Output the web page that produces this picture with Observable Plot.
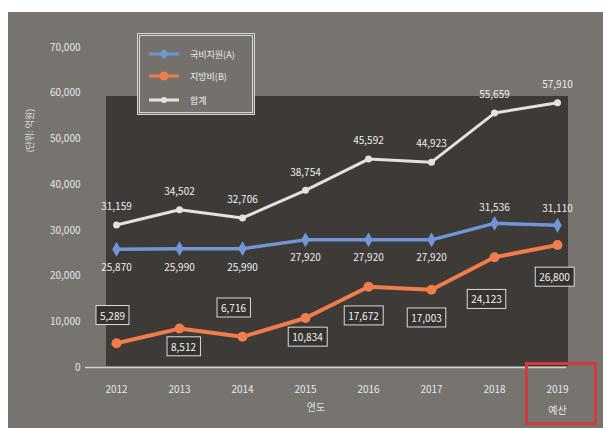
<!DOCTYPE html>
<html><head><meta charset="utf-8">
<script src="https://cdn.jsdelivr.net/npm/d3@7"></script>
<script src="https://cdn.jsdelivr.net/npm/@observablehq/plot@0.6"></script>
<style>
body{margin:0;background:#fff;}
#wrap{position:relative;width:603px;height:428px;overflow:hidden;font-family:"Noto Sans CJK KR",sans-serif;}
#bg{position:absolute;left:8px;top:12px;right:0;bottom:0;background:#77736f;}
#plotbg{position:absolute;left:106px;top:96px;width:462px;height:270px;background:#3e3a37;}
#chart{position:absolute;left:0;top:0;}
#legend{position:absolute;left:137px;top:33px;width:118px;height:82px;border:3px double #d6d6d6;box-sizing:border-box;background:#74706c;}
#legend .row{position:absolute;left:8px;height:14px;display:flex;align-items:center;color:#ececec;font-size:9px;}
#legend .row span{margin-left:10px;}
#redbox{position:absolute;left:525px;top:362px;width:72px;height:63px;border:3px solid #d23a3f;box-sizing:border-box;}
</style></head>
<body>
<div id="wrap">
  <div id="bg"></div>
  <div id="plotbg"></div>
  <div id="chart"></div>
  <div id="legend"></div>
  <div id="redbox"></div>
</div>
<script>
const years = ["2012","2013","2014","2015","2016","2017","2018","2019"];
const xLabels = ["2012","2013","2014","2015","2016","2017","2018","2019\n예산"];
const govt  = [25870, 25990, 25990, 27920, 27920, 27920, 31536, 31110];
const local = [5289, 8512, 6716, 10834, 17672, 17003, 24123, 26800];
const total = [31159, 34502, 32706, 38754, 45592, 44923, 55659, 57910];
const yTicks = [0, 10000, 20000, 30000, 40000, 50000, 60000, 70000];
const seriesNames = ["국비지원(A)", "지방비(B)", "합계"];

// label placement (pixel offsets, layout only)
const blueDy = [19, 19, 19, 18, 18, 18, -16, -16];
const orangeDy = [-27, 19, -28, 20, 30, 29, 43, 33];
const orangeDx = [-4, 4, -9, 2, -5, -5, -8, -3];

const colors = {govt:"#6f97d8", local:"#f07d4b", total:"#e4e2de"};
const fmt = d3.format(",");
const rows = years.map((y, i) => ({year: y, govt: govt[i], local: local[i], total: total[i], i}));

const orangeLabels = rows.map((r, i) => Plot.text([r], {
  x: "year", y: "local", text: d => fmt(d.local), dy: orangeDy[i], dx: orangeDx[i],
  fill: "#f2f2f2", fontSize: 10, className: "olab"
}));
const blueLabels = rows.map((r, i) => Plot.text([r], {
  x: "year", y: "govt", text: d => fmt(d.govt), dy: blueDy[i], fill: "#eeeeee", fontSize: 10
}));

const chart = Plot.plot({
  width: 603, height: 428,
  marginLeft: 115, marginRight: 45, marginTop: 47, marginBottom: 61,
  style: {background: "transparent", color: "#e8e8e8", fontFamily: "'Noto Sans CJK KR', sans-serif", fontSize: "10px"},
  x: {type: "point", domain: years, padding: 0, label: null},
  y: {domain: [0, 70000], label: null},
  marks: [
    Plot.ruleY([0], {stroke: "#d0d0d0", strokeWidth: 1.5, insetLeft: -30, insetRight: -8}),
    Plot.axisY({ticks: yTicks, tickSize: 0, tickPadding: 35, tickFormat: d => fmt(d), label: null, fill: "#e6e6e6"}),
    Plot.axisX({tickSize: 0, tickPadding: 11, tickFormat: d => xLabels[years.indexOf(d)], label: null, lineHeight: 2.1, fill: "#e6e6e6"}),
    Plot.text(["(단위: 억원)"], {frameAnchor: "left", dx: -85, dy: -55, rotate: -90, fill: "#e0e0e0", fontSize: 9}),
    Plot.text(["연도"], {frameAnchor: "bottom", dy: 43, dx: -21, fill: "#e0e0e0", fontSize: 10}),
    Plot.line(rows, {x: "year", y: "total", stroke: colors.total, strokeWidth: 3}),
    Plot.line(rows, {x: "year", y: "govt", stroke: colors.govt, strokeWidth: 3.5}),
    Plot.line(rows, {x: "year", y: "local", stroke: colors.local, strokeWidth: 4}),
    Plot.dot(rows, {x: "year", y: "total", r: 3.5, fill: colors.total}),
    Plot.dot(rows, {x: "year", y: "govt", r: 4.5, symbol: "diamond", fill: colors.govt}),
    Plot.dot(rows, {x: "year", y: "local", r: 5, fill: colors.local}),
    Plot.text(rows, {x: "year", y: "total", text: d => fmt(d.total), dy: -18, fill: "#f0f0f0", fontSize: 10}),
    ...blueLabels,
    ...orangeLabels
  ]
});
document.getElementById("chart").appendChild(chart);

// boxes behind the orange-series labels
chart.querySelectorAll(".olab text").forEach(t => {
  const b = t.getBBox();
  const r = document.createElementNS("http://www.w3.org/2000/svg", "rect");
  r.setAttribute("x", b.x - 4); r.setAttribute("y", b.y - 2);
  r.setAttribute("width", b.width + 8); r.setAttribute("height", b.height + 4);
  r.setAttribute("fill", "#363230"); r.setAttribute("stroke", "#dcdcdc"); r.setAttribute("stroke-width", 1);
  if (t.getAttribute("transform")) r.setAttribute("transform", t.getAttribute("transform"));
  t.parentNode.insertBefore(r, t);
});

// legend
const legend = document.getElementById("legend");
const markers = [
  `<polygon points="16,2 21,7 16,12 11,7" fill="${colors.govt}"/>`,
  `<circle cx="16" cy="7" r="4.5" fill="${colors.local}"/>`,
  `<circle cx="16" cy="7" r="3" fill="${colors.total}"/>`
];
const strokes = [colors.govt, colors.local, colors.total];
const tops = [11, 33, 57];
seriesNames.forEach((name, i) => {
  const row = document.createElement("div");
  row.className = "row";
  row.style.top = tops[i] + "px";
  row.innerHTML = `<svg width="32" height="14"><line x1="1" x2="31" y1="7" y2="7" stroke="${strokes[i]}" stroke-width="3"/>${markers[i]}</svg><span>${name}</span>`;
  legend.appendChild(row);
});
</script>
</body></html>
